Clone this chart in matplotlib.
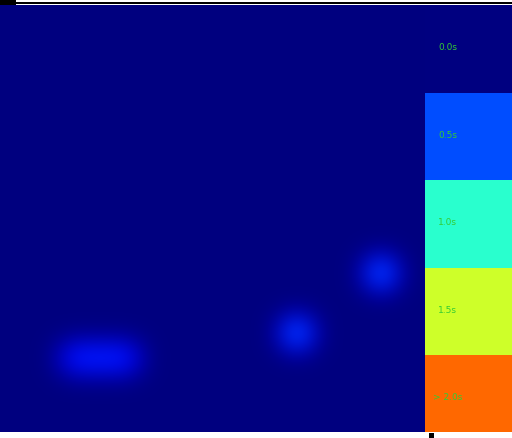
import matplotlib
matplotlib.use("Agg")
import matplotlib.pyplot as plt
from matplotlib.patches import Rectangle
import numpy as np

# fixation points (screen px) and their durations in seconds
fix_x = [72, 86, 100, 114, 128, 297, 381]
fix_y = [358, 358, 358, 358, 358, 333, 273]
fix_dur = [0.26, 0.21, 0.21, 0.21, 0.26, 0.62, 0.62]

# legend levels
levels = [0.0, 0.5, 1.0, 1.5, 2.0]
level_labels = ["0.0s", "0.5s", "1.0s", "1.5s", "> 2.0s"]
max_dur = 2.5

W, H = 512, 438
top, bottom = 5, 432


def box_blur(img, k):
    # separable box blur on an (h, w, c) array, edges padded
    pad = k // 2
    out = img
    for axis in (0, 1):
        padw = [(0, 0)] * 3
        padw[axis] = (pad, pad)
        p = np.pad(out, padw, mode='edge')
        c = np.cumsum(p, axis=axis)
        c = np.insert(c, 0, 0, axis=axis)
        n = out.shape[axis]
        out = (np.take(c, np.arange(k, k + n), axis=axis)
               - np.take(c, np.arange(0, n), axis=axis)) / k
    return out


fig = plt.figure(figsize=(W / 100, H / 100), dpi=100)
ax = fig.add_axes([0, 0, 1, 1])
ax.set_xlim(0, W)
ax.set_ylim(H, 0)
ax.axis('off')

# build the heat map from the fixations
xs = np.arange(W) + 0.5
ys = np.arange(top, bottom) + 0.5
gx, gy = np.meshgrid(xs, ys)
heat = np.zeros_like(gx)
sigma = 11
for x, y, d in zip(fix_x, fix_y, fix_dur):
    heat += d * np.exp(-((gx - x) ** 2 + (gy - y) ** 2) / (2 * sigma ** 2))
heat = np.minimum(heat, fix_dur[-1])

cmap = plt.get_cmap('jet')
rgb = cmap(np.clip(heat / max_dur, 0, 1))[..., :3]
rgb = box_blur(box_blur(rgb, 25), 25)
ax.imshow(rgb, extent=(0, W, bottom, top), aspect='auto', interpolation='nearest')

# legend blocks on the right
block_h = 87.5
for i, (lvl, lab) in enumerate(zip(levels, level_labels)):
    y0 = top + i * block_h
    h = min(block_h, bottom - y0)
    ax.add_patch(Rectangle((425, y0), W - 425, h, facecolor=cmap(lvl / max_dur),
                           edgecolor='none', zorder=2))
    ax.text(447.5, y0 + block_h / 2 - 1, lab, color='#33cc33', fontsize=6.5,
            ha='center', va='center', zorder=3)

# odd marks at the frame edges
ax.add_patch(Rectangle((0, 0), 16, 5, facecolor='black', edgecolor='none'))
ax.add_patch(Rectangle((16, 1.8), W - 16, 2.2, facecolor='black', edgecolor='none'))
ax.add_patch(Rectangle((429, 433), 5, 5, facecolor='black', edgecolor='none'))

fig.savefig('out.png', dpi=100)
